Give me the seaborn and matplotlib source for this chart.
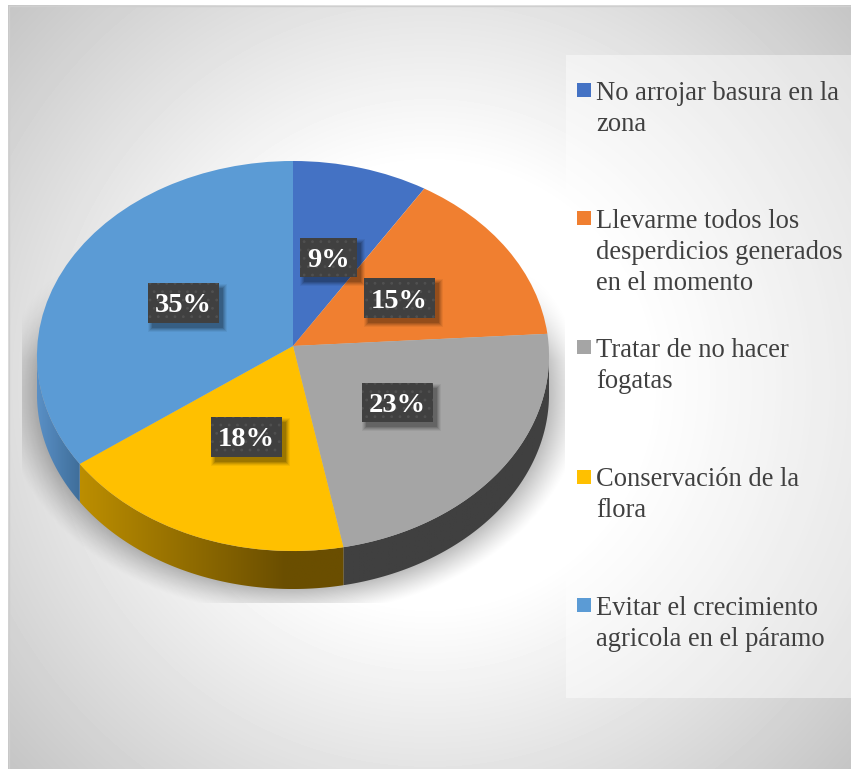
import numpy as np
import matplotlib
matplotlib.use("Agg")
import matplotlib.pyplot as plt
from matplotlib.colors import LinearSegmentedColormap
from matplotlib.patches import Polygon, Rectangle
from matplotlib.transforms import Transform
import seaborn as sns

categories = ["No arrojar basura en la\nzona",
              "Llevarme todos los\ndesperdicios generados\nen el momento",
              "Tratar de no hacer\nfogatas",
              "Conservación de la\nflora",
              "Evitar el crecimiento\nagricola en el páramo"]
values = [9, 15, 23, 18, 35]
labels = ["9%", "15%", "23%", "18%", "35%"]
colors = ["#4472C4", "#F07F30", "#A5A5A5", "#FFC000", "#5B9BD5"]

W, H = 851, 769
CX, CY, PA, PB, PK, DEPTH = 293, 346, 255.7, 194.5, 0.0513, 38
FONT = "Liberation Serif"

sns.set_theme(style="white", palette=colors)
plt.rcParams["font.family"] = [FONT, "DejaVu Sans"]
plt.rcParams["hatch.linewidth"] = 0.8

fig = plt.figure(figsize=(W / 100, H / 100), dpi=100, facecolor="white")


def project(x, y):
    """Perspective view of the tilted disc, to pixel coordinates."""
    d = 1 + PK * y
    return CX + PA * x / d, CY - PB * y / d


class Perspective(Transform):
    input_dims = output_dims = 2
    is_affine = False
    has_inverse = False

    def transform_non_affine(self, values):
        v = np.asarray(values, dtype=float)
        return np.column_stack(project(v[:, 0], v[:, 1]))


def pixel_axes(z):
    a = fig.add_axes([0, 0, 1, 1], zorder=z)
    a.set_xlim(0, W)
    a.set_ylim(H, 0)
    a.set_autoscale_on(False)
    a.axis("off")
    a.patch.set_alpha(0)
    return a


bg = pixel_axes(0)
xx, yy = np.meshgrid(np.arange(W) + 0.5, np.arange(H) + 0.5)

# chart-area radial gradient
r = np.hypot(xx - 430, yy - 385)
shade = np.clip(255 - (r - 220) * 59 / 355, 196, 255) / 255
bg.imshow(shade, cmap="gray", vmin=0, vmax=1, extent=(0, W, H, 0), aspect="auto", zorder=0)
bg.add_patch(Rectangle((0, 0), 8, H, fc="white", ec="none", zorder=1))
bg.add_patch(Rectangle((0, 0), W, 5, fc="white", ec="none", zorder=1))
bg.plot([8.5, 8.5, W], [H, 5.5, 5.5], color="#cfcfcf", lw=1, zorder=1)

# ground shadow
nr = np.hypot((xx - CX) / 256, (yy - CY - 10 - DEPTH) / 195)
sa = 0.26 * np.clip(1 - (nr - 1) * 230 / 32, 0, 1) ** 1.2 * np.clip((yy - 270) / 90, 0, 1)
sa[(xx < 22) | (xx > 565) | (yy > 603)] = 0
rgba = np.zeros((H, W, 4))
rgba[..., 3] = sa
bg.imshow(rgba, extent=(0, W, H, 0), aspect="auto", zorder=2)

# legend panel
bg.add_patch(Rectangle((566, 55), W - 566, 643, fc="white", ec="none", alpha=0.45, zorder=3))

# extruded pie side
side_stops = {
    2: [(0, "#404040"), (1, "#404040")],
    3: [(0, "#BC8E00"), (0.78, "#6A4E00"), (1, "#6A4E00")],
    4: [(0, "#5A90C6"), (1, "#3F6E9A")],
}
grid = np.linspace(0, 2 * np.pi, 3601)
gx, _ = project(np.sin(grid), np.cos(grid))
t_right, t_left = grid[np.argmax(gx)], grid[np.argmin(gx)]
edges = np.cumsum([0] + values) / sum(values) * 2 * np.pi
for i, stops in side_stops.items():
    a, b = max(edges[i], t_right), min(edges[i + 1], t_left)
    t = np.linspace(a, b, 200)
    px, py = project(np.sin(t), np.cos(t))
    poly = Polygon(np.r_[np.c_[px, py], np.c_[px, py + DEPTH][::-1]], closed=True,
                   fc="none", ec="none", zorder=4)
    bg.add_patch(poly)
    cmap = LinearSegmentedColormap.from_list(f"side{i}", stops)
    im = bg.imshow(np.linspace(0, 1, 256)[None, :], cmap=cmap, vmin=0, vmax=1, aspect="auto",
                   extent=(px.min(), px.max(), py.max() + DEPTH, py.min()), zorder=4)
    im.set_clip_path(poly)

# top face: ordinary pie, drawn through the perspective transform
ax = fig.add_axes([0, 0, 1, 1], zorder=1)
ax.patch.set_alpha(0)
wedges, _ = ax.pie(values, colors=colors, startangle=90, counterclock=False, radius=1,
                   wedgeprops=dict(linewidth=0, antialiased=True))
ax.set_aspect("auto")
ax.axis("off")
persp = Perspective() + bg.transData
for w in wedges:
    w.set_transform(persp)

top = pixel_axes(2)

# data labels
boxes = [(300, 238, 57, 39), (364, 278, 71, 40), (362, 383, 71, 39), (211, 417, 71, 40), (148, 283, 71, 40)]
for lab, (x, y, w, h) in zip(labels, boxes):
    for g, al in ((4, 0.05), (3, 0.07), (2, 0.09), (1, 0.11), (0, 0.13)):
        top.add_patch(Rectangle((x + 4 - g, y + 5 - g), w + 2 * g, h + 2 * g, fc="black", ec="none", alpha=al))
    top.add_patch(Rectangle((x, y), w, h, fc="#404040", ec="#505050", hatch="..", lw=0))
    top.text(x + w / 2, y + h / 2 + 3, lab, color="white", fontsize=20.5, fontweight="bold",
             ha="center", va="center", family=FONT)

# legend
marker_y = [90, 218, 347, 477, 605]
text_top = [81, 209, 338, 467, 596]
for cat, col, my, ty in zip(categories, colors, marker_y, text_top):
    top.add_patch(Rectangle((577, my - 7), 14, 14, fc=col, ec="none"))
    top.text(596.5, ty, cat, color="#404040", fontsize=19.1, ha="left", va="top",
             linespacing=1.32, family=FONT)

fig.savefig("out.png", dpi=100, facecolor="white")
